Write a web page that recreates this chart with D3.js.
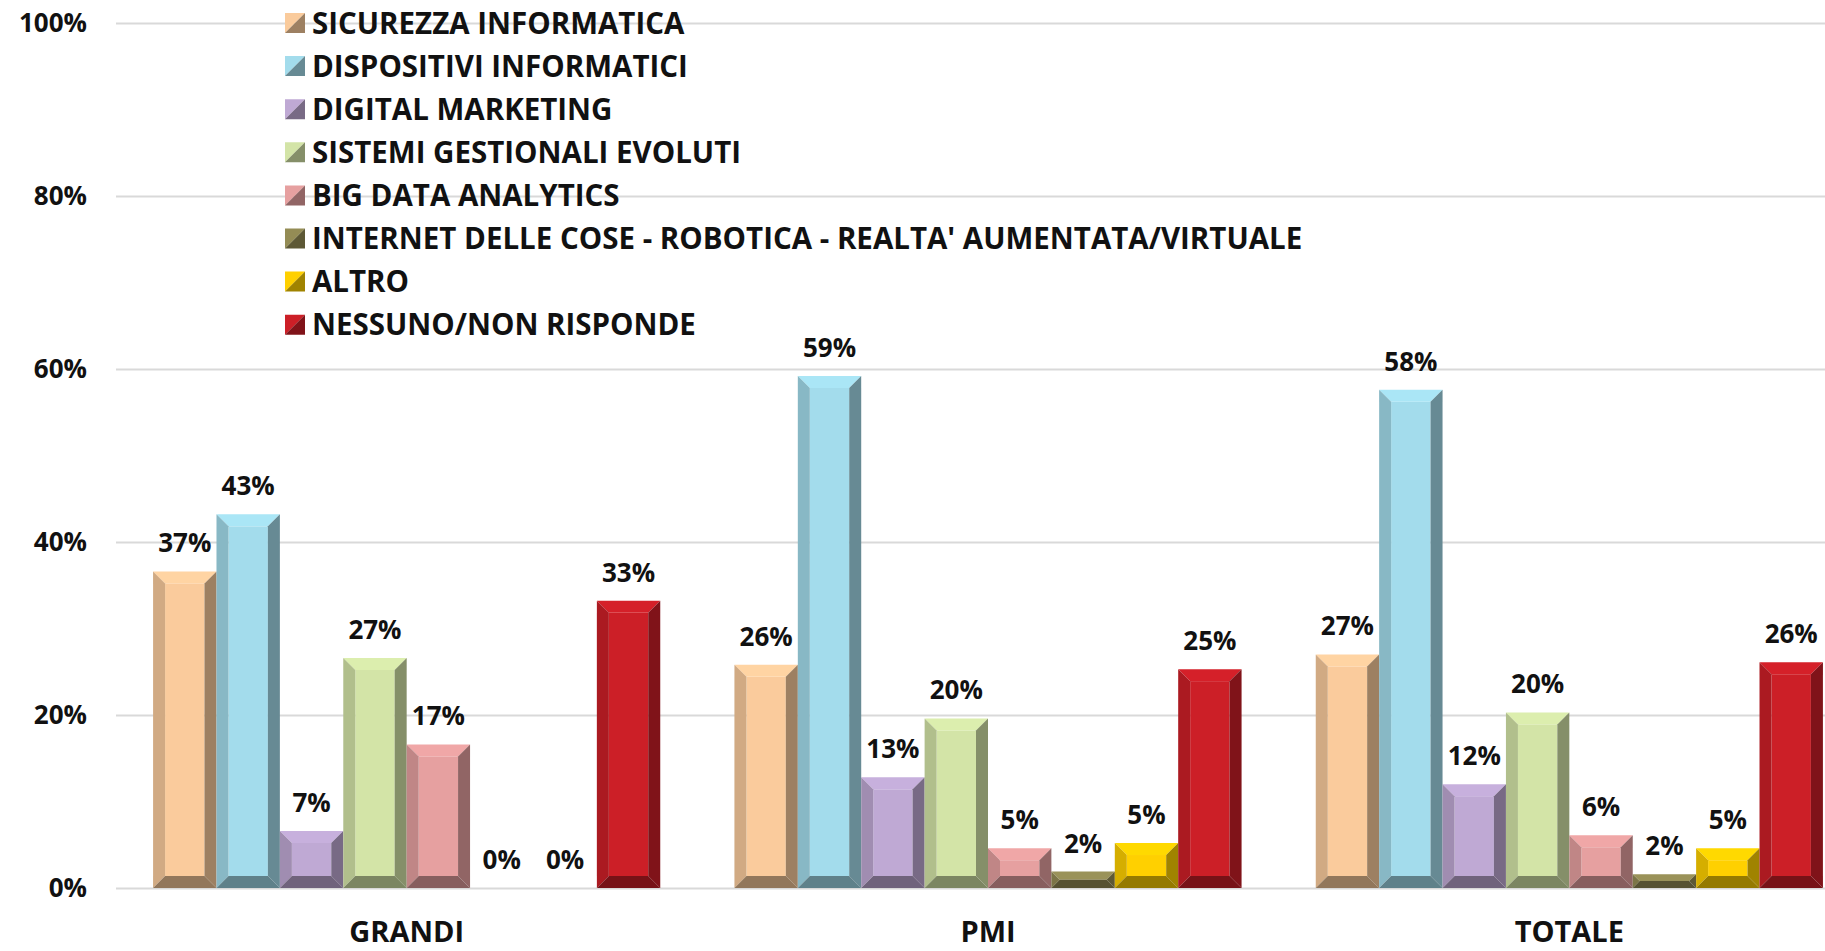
<!DOCTYPE html>
<html>
<head>
<meta charset="utf-8">
<script src="https://cdn.jsdelivr.net/npm/d3@7"></script>
<style>
  body { margin: 0; background: #fff; }
  text { font-family: 'Open Sans', sans-serif; font-weight: bold; fill: #111; }
</style>
</head>
<body>
<div class="chart"></div>
<script>
var groups = ['GRANDI', 'PMI', 'TOTALE'];
var series = [
  'SICUREZZA INFORMATICA',
  'DISPOSITIVI INFORMATICI',
  'DIGITAL MARKETING',
  'SISTEMI GESTIONALI EVOLUTI',
  'BIG DATA ANALYTICS',
  "INTERNET DELLE COSE - ROBOTICA - REALTA' AUMENTATA/VIRTUALE",
  'ALTRO',
  'NESSUNO/NON RISPONDE'
];
var colors = ['#FACB9C', '#A3DCEC', '#BFA9D4', '#D3E4A7', '#E6A0A0', '#948C55', '#FFD000', '#CC1F27'];
// values per group, in series order (share of respondents)
var grandi = [0.366, 0.432, 0.066, 0.266, 0.166, 0, 0, 0.332];
var pmi = [0.258, 0.592, 0.128, 0.196, 0.046, 0.019, 0.052, 0.253];
var totale = [0.270, 0.576, 0.120, 0.203, 0.061, 0.016, 0.046, 0.261];
var yTicks = [0, 0.2, 0.4, 0.6, 0.8, 1];

var values = [grandi, pmi, totale];

var width = 1825;
var height = 951;
var plot = { left: 116, right: 1860, top: 23, bottom: 888 };
var bevel = 12;

var svg = d3.select('.chart')
  .append('svg')
    .attr('width', width)
    .attr('height', height);

var yScale = d3.scaleLinear()
  .domain([0, 1])
  .range([plot.bottom, plot.top]);

var x0 = d3.scaleBand()
  .domain(groups)
  .range([plot.left, plot.right])
  .paddingInner(0.1276)
  .paddingOuter(0.0638);

var x1 = d3.scaleBand()
  .domain(series)
  .range([0, x0.bandwidth()]);

// gridlines + y labels
var yAxis = svg.append('g')
  .attr('transform', `translate(${plot.left}, 0)`)
  .call(d3.axisLeft(yScale)
    .tickValues(yTicks)
    .tickFormat(d3.format('.0%'))
    .tickSize(-(width - plot.left))
    .tickPadding(29));
yAxis.select('.domain').remove();
yAxis.selectAll('line').attr('stroke', '#D9D9D9').attr('stroke-width', 2);
yAxis.selectAll('text').attr('font-size', 26).attr('font-family', null).attr('fill', '#111');

// category labels
var xAxis = svg.append('g')
  .attr('transform', `translate(0, ${plot.bottom})`)
  .call(d3.axisBottom(x0).tickSize(0).tickPadding(33));
xAxis.select('.domain').remove();
xAxis.selectAll('text').attr('font-size', 29).attr('font-family', null).attr('fill', '#111');

// flatten for drawing
var bars = [];
groups.forEach(function (g, gi) {
  series.forEach(function (s, si) {
    bars.push({ group: g, name: s, i: si, value: values[gi][si] });
  });
});

function shades(c) {
  var col = d3.color(c);
  return {
    face: col.formatHex(),
    top: col.brighter(0.12).formatHex(),
    left: col.darker(0.5).formatHex(),
    right: col.darker(1.3).formatHex(),
    bottom: col.darker(1.5).formatHex()
  };
}

function pts(a) {
  return a.map(p => p.join(',')).join(' ');
}

var barG = svg.append('g')
  .selectAll('g')
  .data(bars.filter(d => d.value > 0))
  .enter()
  .append('g')
  .each(function (d) {
    var g = d3.select(this);
    var xa = x0(d.group) + x1(d.name);
    var xb = xa + x1.bandwidth();
    var ya = yScale(d.value);
    var yb = yScale(0);
    var b = Math.min(bevel, (xb - xa) / 2, (yb - ya) / 2);
    var c = shades(colors[d.i]);
    g.append('rect')
      .attr('x', xa + b).attr('y', ya + b)
      .attr('width', xb - xa - 2 * b).attr('height', Math.max(0, yb - ya - 2 * b))
      .attr('fill', c.face);
    g.append('polygon').attr('fill', c.top)
      .attr('points', pts([[xa, ya], [xb, ya], [xb - b, ya + b], [xa + b, ya + b]]));
    g.append('polygon').attr('fill', c.left)
      .attr('points', pts([[xa, ya], [xa + b, ya + b], [xa + b, yb - b], [xa, yb]]));
    g.append('polygon').attr('fill', c.right)
      .attr('points', pts([[xb, ya], [xb, yb], [xb - b, yb - b], [xb - b, ya + b]]));
    g.append('polygon').attr('fill', c.bottom)
      .attr('points', pts([[xa, yb], [xa + b, yb - b], [xb - b, yb - b], [xb, yb]]));
  });

// data labels
svg.append('g')
  .selectAll('text')
  .data(bars)
  .enter()
  .append('text')
    .attr('x', d => x0(d.group) + x1(d.name) + x1.bandwidth() / 2)
    .attr('y', d => yScale(d.value) - 19)
    .attr('text-anchor', 'middle')
    .attr('font-size', 26)
    .text(d => d3.format('.0%')(d.value));

// legend
var legend = svg.append('g')
  .selectAll('g')
  .data(series)
  .enter()
  .append('g')
    .attr('transform', (d, i) => `translate(285, ${23 + i * 43.1})`);

legend.append('polygon')
  .attr('points', pts([[0, -10], [20, -10], [0, 10]]))
  .attr('fill', (d, i) => shades(colors[i]).face);
legend.append('polygon')
  .attr('points', pts([[20, -10], [20, 10], [0, 10]]))
  .attr('fill', (d, i) => shades(colors[i]).right);

legend.append('text')
  .attr('x', 27)
  .attr('dy', '0.36em')
  .attr('font-size', 29.5)
  .text(d => d);
</script>
</body>
</html>
